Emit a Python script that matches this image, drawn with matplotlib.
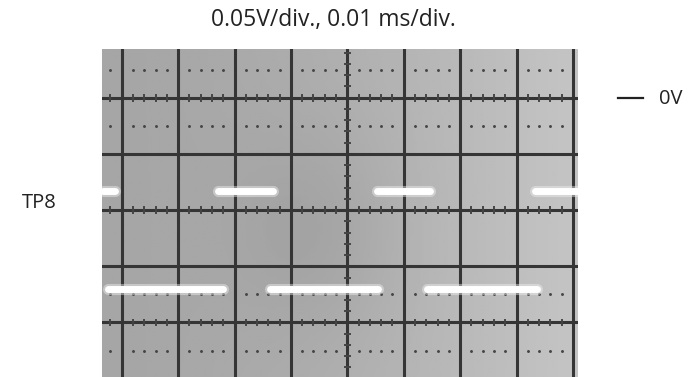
import numpy as np
import matplotlib
matplotlib.use("Agg")
import matplotlib.pyplot as plt

# ---- data (time in microseconds from left graticule line, voltage in volts) ----
title_text = "0.05V/div., 0.01 ms/div."
channel_label = "TP8"
zero_label = "0V"
volts_per_div = 0.05
us_per_div = 10.0

# high level trace segments (start, end) in us
hi_start = [-3.3, 17.1, 45.3, 73.3]
hi_end = [-1.2, 26.8, 54.7, 82.0]
hi_level = -0.083
# low level trace segments
lo_start = [-2.4, 26.3, 54.1]
lo_end = [18.0, 45.4, 73.6]
lo_level = -0.170

# graticule
n_hdiv = 8
v_lines = [0.0, -0.05, -0.10, -0.15, -0.20]
v_ticked = [0.0, -0.10, -0.20]
v_dotted = [0.025, -0.025, -0.175, -0.225]

fig = plt.figure(figsize=(6.91, 3.77), dpi=100)
fig.patch.set_facecolor("white")
ax = fig.add_axes([102/691, 0.0, 476/691, 328.5/377])
xlim = (-3.5, 80.9)
ylim = (-0.2485, 0.0438)
ax.set_xlim(*xlim)
ax.set_ylim(*ylim)
ax.set_axis_off()

# screen background: soft gradient
gx = np.linspace(0, 1, 200)
gy = np.linspace(0, 1, 120)
GX, GY = np.meshgrid(gx, gy)
bg = 0.65 + 0.12 * GX**1.6 - 0.04 * np.exp(-((GX - 0.45) ** 2) / 0.03) * np.exp(-((GY - 0.45) ** 2) / 0.1)
ax.imshow(bg, extent=(xlim[0], xlim[1], ylim[0], ylim[1]), aspect="auto",
          cmap="gray", vmin=0, vmax=1, origin="lower", zorder=0, interpolation="bilinear")

gc = "#353535"
lw = 2.2
for i in range(n_hdiv + 1):
    ax.axvline(i * us_per_div, color=gc, lw=lw, zorder=2)
for v in v_lines:
    ax.axhline(v, color=gc, lw=lw, zorder=2)

# minor ticks on ticked horizontal lines
tick_h = 0.0025
xt = np.arange(xlim[0] - xlim[0] % 2, xlim[1], 2.0)
for v in v_ticked:
    for x in xt:
        if abs(x % 10) < 1e-6:
            continue
        ax.plot([x, x], [v - tick_h, v + tick_h], color="#444444", lw=1.4, zorder=2)
# minor ticks on centre vertical line
cx = 4 * us_per_div
tick_w = 0.5
yt = np.arange(-0.24, 0.045, 0.01)
for y in yt:
    if abs((y / 0.05) - round(y / 0.05)) < 1e-6:
        continue
    ax.plot([cx - tick_w, cx + tick_w], [y, y], color="#444444", lw=1.4, zorder=2)

# dotted rows
xd = []
for i in range(-1, n_hdiv + 1):
    for f in (0.2, 0.4, 0.6, 0.8):
        x = (i + f) * us_per_div
        if xlim[0] < x < xlim[1]:
            xd.append(x)
for v in v_dotted:
    ax.plot(xd, [v] * len(xd), ls="none", marker="o", ms=2.1, color="#444444",
            mew=0, zorder=2)

# traces with glow
def trace(starts, ends, level):
    for s, e in zip(starts, ends):
        ax.plot([s, e], [level, level], color="#f0f0f0", lw=8.0, alpha=0.45,
                solid_capstyle="round", zorder=3)
        ax.plot([s, e], [level, level], color="white", lw=5.0,
                solid_capstyle="round", zorder=4)

trace(hi_start, hi_end, hi_level)
trace(lo_start, lo_end, lo_level)

# text
font = ["Open Sans", "DejaVu Sans"]
fig.text(333/691, 1 - 20/377, title_text, ha="center", va="center",
         fontsize=16.5, color="#222222", family=font)
fig.text(39/691, 1 - 203/377, channel_label, ha="center", va="center",
         fontsize=14.5, color="#222222", family=font)
fig.add_artist(plt.Line2D([618/691, 643/691], [1 - 98/377, 1 - 98/377],
                          color="#222222", lw=1.6, transform=fig.transFigure))
fig.text(671/691, 1 - 99/377, zero_label, ha="center", va="center",
         fontsize=14.5, color="#222222", family=font)

fig.savefig("out.png", dpi=100)
